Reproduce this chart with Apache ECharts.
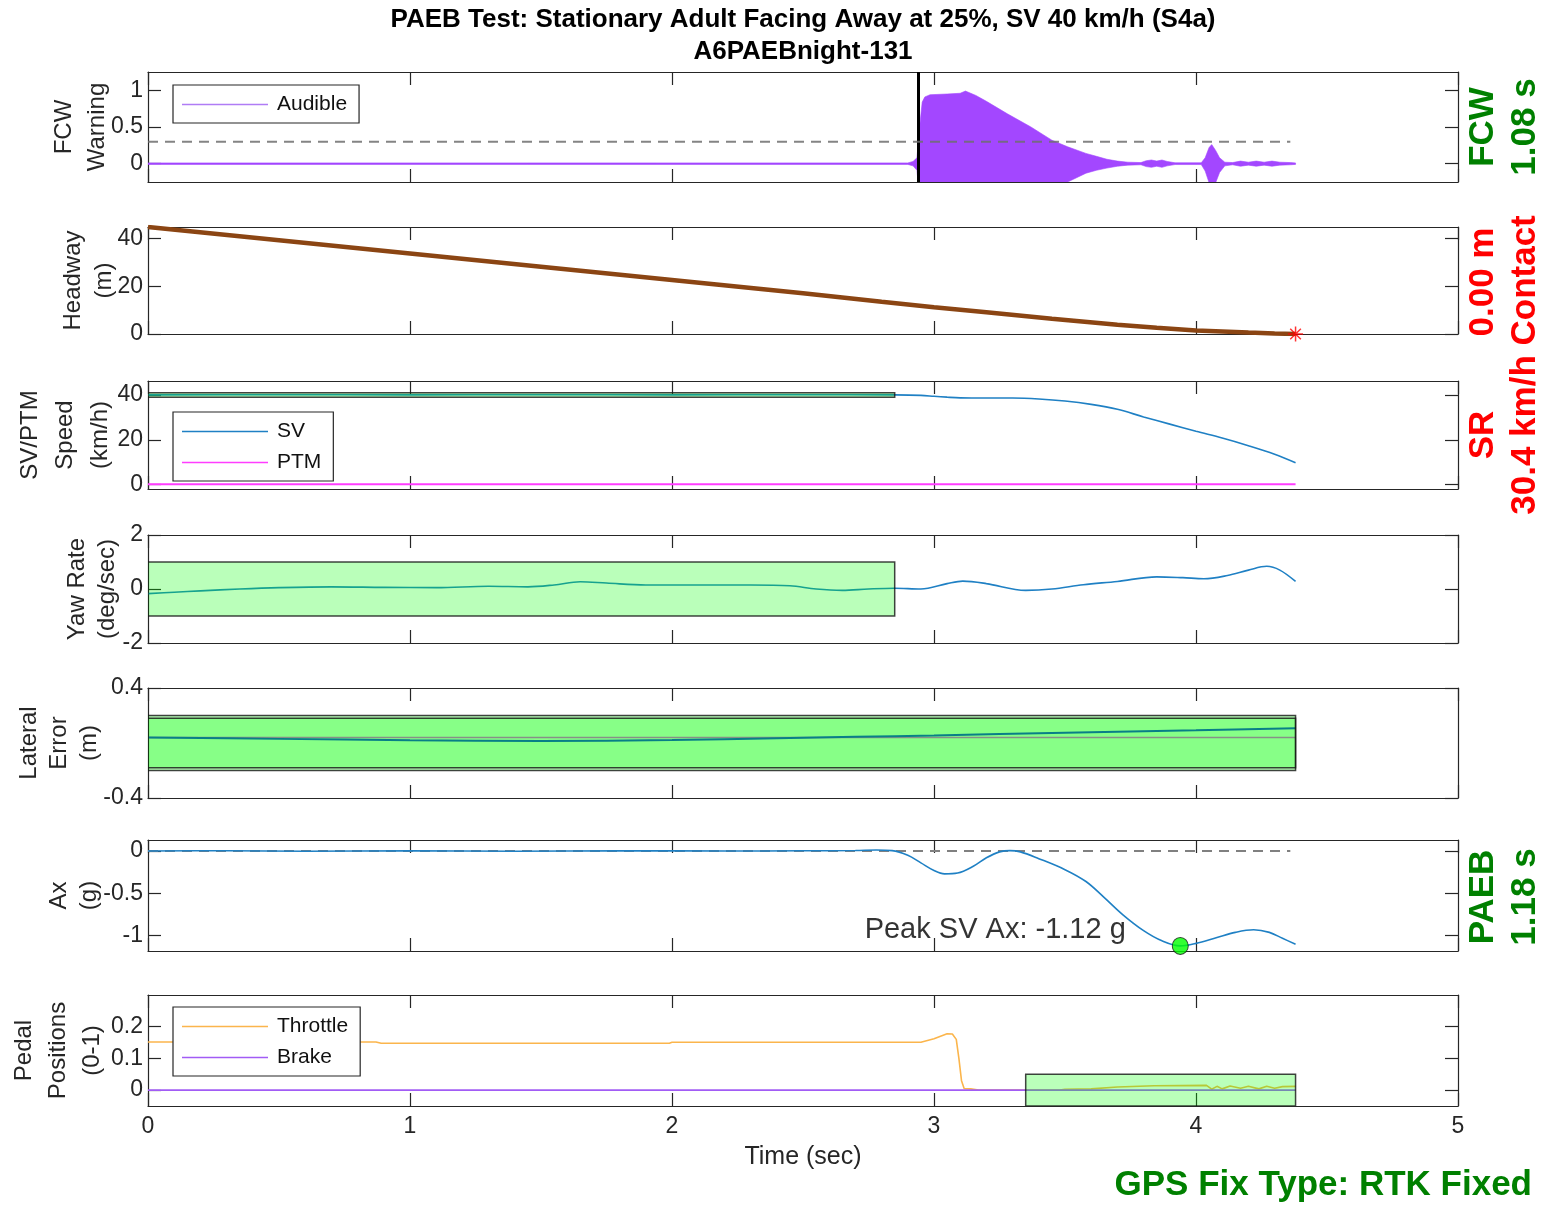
<!DOCTYPE html>
<html>
<head>
<meta charset="utf-8">
<title>PAEB Test S4a</title>
<script src="https://cdn.jsdelivr.net/npm/echarts@6/dist/echarts.min.js"></script>
<style>
  html, body { margin: 0; padding: 0; background: #fff; }
  #chart { width: 1554px; height: 1206px; }
</style>
</head>
<body>
<div id="chart"></div>
<script>
// ---------------- data ----------------
const timeTicks = [0, 1, 2, 3, 4, 5];
const fcwTicks = [0, 0.5, 1];
const headwayTicks = [0, 20, 40];
const speedTicks = [0, 20, 40];
const yawTicks = [-2, 0, 2];
const latTicks = [-0.4, 0.4];
const axTicks = [-1, -0.5, 0];
const pedalTicks = [0, 0.1, 0.2];

// audible warning signal envelope: [time s, upper, lower]
const audibleEnvelope = [
  [0, 0.01, -0.01], [2.90, 0.01, -0.01], [2.92, 0.03, -0.03], [2.935, 0.08, -0.09],
  [2.945, 0.5, -0.5], [2.955, 0.84, -0.88], [2.965, 0.91, -0.95], [2.985, 0.94, -0.96],
  [3.05, 0.95, -0.97], [3.10, 0.96, -0.98], [3.12, 0.99, -0.99], [3.16, 0.93, -0.94],
  [3.20, 0.85, -0.86], [3.28, 0.68, -0.70], [3.37, 0.50, -0.52], [3.45, 0.32, -0.35],
  [3.51, 0.23, -0.25], [3.58, 0.14, -0.13], [3.62, 0.10, -0.09], [3.66, 0.06, -0.06],
  [3.70, 0.035, -0.035], [3.74, 0.02, -0.02], [3.79, 0.015, -0.015], [3.81, 0.04, -0.04],
  [3.83, 0.05, -0.05], [3.85, 0.035, -0.035], [3.87, 0.05, -0.05], [3.89, 0.03, -0.03],
  [3.92, 0.012, -0.012], [4.02, 0.012, -0.012], [4.035, 0.08, -0.10], [4.05, 0.22, -0.26],
  [4.06, 0.26, -0.26], [4.075, 0.18, -0.26], [4.09, 0.08, -0.12], [4.11, 0.02, -0.03],
  [4.14, 0.015, -0.015], [4.17, 0.035, -0.035], [4.20, 0.02, -0.02], [4.23, 0.035, -0.035],
  [4.26, 0.02, -0.02], [4.29, 0.035, -0.035], [4.32, 0.02, -0.02], [4.36, 0.015, -0.015],
  [4.38, 0.01, -0.01]
];
const fcwThreshold = [[0, 0.3], [4.36, 0.3]];
const fcwOnset = 2.945;

const headway = [
  [0, 44.8], [0.5, 39.25], [1, 33.7], [1.5, 28.15], [2, 22.6], [2.5, 17.05],
  [2.8, 13.5], [3.0, 11.2], [3.2, 9.1], [3.45, 6.4], [3.7, 3.9], [3.85, 2.6],
  [4.0, 1.5], [4.2, 0.6], [4.3, 0.25], [4.38, 0]
];
const contactPoint = [[4.38, 0]];

const svSpeed = [
  [0, 40.0], [0.5, 40.1], [1, 40.0], [1.5, 40.1], [2, 40.0], [2.5, 40.1],
  [2.85, 40.0], [2.95, 39.8], [3.0, 39.4], [3.05, 39.0], [3.10, 38.7], [3.2, 38.6],
  [3.3, 38.6], [3.4, 38.2], [3.5, 37.3], [3.6, 35.8], [3.7, 33.6], [3.8, 30.2],
  [3.9, 27.0], [4.0, 23.8], [4.1, 20.8], [4.2, 17.4], [4.3, 13.6], [4.38, 9.8]
];
const ptmSpeed = [[0, 0.2], [4.38, 0.2]];

const yawRate = [
  [0, -0.17], [0.1, -0.12], [0.2, -0.07], [0.35, 0.0], [0.5, 0.05], [0.7, 0.08],
  [0.9, 0.06], [1.1, 0.05], [1.3, 0.1], [1.45, 0.08], [1.55, 0.15], [1.65, 0.27],
  [1.75, 0.22], [1.9, 0.15], [2.1, 0.15], [2.3, 0.15], [2.45, 0.12], [2.55, 0.0],
  [2.65, -0.05], [2.75, 0.0], [2.85, 0.03], [2.95, 0.0], [3.05, 0.2], [3.11, 0.29],
  [3.2, 0.2], [3.35, -0.05], [3.45, 0.0], [3.57, 0.16], [3.7, 0.28], [3.85, 0.45],
  [3.95, 0.42], [4.03, 0.38], [4.12, 0.5], [4.2, 0.7], [4.27, 0.84], [4.32, 0.7],
  [4.38, 0.28]
];

const latErrorSV = [
  [0, 0.04], [0.5, 0.03], [1, 0.02], [1.5, 0.015], [2, 0.022], [2.4, 0.035],
  [2.7, 0.045], [3, 0.055], [3.5, 0.075], [4, 0.092], [4.38, 0.108]
];
const latErrorRef = [[0, 0.04], [4.38, 0.04]];

const axSV = [
  [0, 0], [0.3, 0.004], [0.6, -0.003], [1.0, 0.003], [1.4, -0.002], [1.8, 0.004],
  [2.2, 0.0], [2.5, 0.003], [2.7, 0.006], [2.78, 0.012], [2.84, 0.005], [2.9, -0.05],
  [2.95, -0.14], [3.0, -0.23], [3.04, -0.27], [3.09, -0.26], [3.15, -0.18], [3.2, -0.08],
  [3.25, -0.01], [3.29, 0.005], [3.33, -0.01], [3.4, -0.09], [3.5, -0.22], [3.58, -0.36],
  [3.65, -0.55], [3.72, -0.75], [3.8, -0.94], [3.87, -1.06], [3.94, -1.12], [4.0, -1.09],
  [4.08, -1.02], [4.15, -0.96], [4.22, -0.93], [4.28, -0.96], [4.33, -1.03], [4.38, -1.1]
];
const axPeak = [[3.94, -1.12]];
const axZero = [[0, 0], [4.36, 0]];

const throttle = [
  [0, 0.152], [0.87, 0.152], [0.89, 0.148], [1.99, 0.148], [2.0, 0.151], [2.95, 0.151],
  [3.0, 0.162], [3.05, 0.178], [3.07, 0.177], [3.085, 0.16], [3.095, 0.1], [3.105, 0.03],
  [3.115, 0.005], [3.14, 0.004], [3.17, 0.0], [3.48, 0.0], [3.5, 0.003], [3.6, 0.004],
  [3.7, 0.01], [3.84, 0.014], [4.04, 0.015], [4.06, 0.003], [4.08, 0.012], [4.1, 0.004],
  [4.13, 0.013], [4.17, 0.006], [4.2, 0.012], [4.24, 0.004], [4.27, 0.012], [4.3, 0.006],
  [4.33, 0.011], [4.38, 0.012]
];
const brake = [[0, 0], [4.38, 0]];

// tolerance boxes: [t start, t end, lower, upper]
const speedBox = [[0, 2.85, 39, 41]];
const yawBox = [[0, 2.85, -1, 1]];
const latBox = [[0, 4.38, -0.2, 0.2], [0, 4.38, -0.18, 0.18]];
const pedalBox = [[3.35, 4.38, -0.05, 0.05]];

// ---------------- layout ----------------
const FONT = '"Liberation Sans", Arial, Helvetica, sans-serif';
const AX = '#262626';
const panels = [
  { top: 72,  height: 110, min: -0.25, max: 1.25,  ticks: fcwTicks,     name: 'FCW\nWarning',            gap: 34, lh: 33 },
  { top: 227, height: 107, min: 0,     max: 44.8,  ticks: headwayTicks, name: 'Headway\n(m)',            gap: 28, lh: 31 },
  { top: 381, height: 108, min: -1.9,  max: 46.2,  ticks: speedTicks,   name: 'SV/PTM\nSpeed\n(km/h)',   gap: 30, lh: 35 },
  { top: 535, height: 108, min: -2,    max: 2,     ticks: yawTicks,     name: 'Yaw Rate\n(deg/sec)',     gap: 26, lh: 30 },
  { top: 688, height: 110, min: -0.4,  max: 0.4,   ticks: latTicks,     name: 'Lateral\nError\n(m)',     gap: 44, lh: 30 },
  { top: 840, height: 111, min: -1.18, max: 0.13,  ticks: axTicks,      name: 'Ax\n(g)',                 gap: 44, lh: 30 },
  { top: 995, height: 111, min: -0.05, max: 0.3,   ticks: pedalTicks,   name: 'Pedal\nPositions\n(0-1)', gap: 39, lh: 34 }
];

const grids = [], xAxes = [], yAxes = [];
panels.forEach((p, g) => {
  grids.push({ left: 148, right: 96, top: p.top, height: p.height, containLabel: false, outerBoundsMode: 'none' });
  const isLast = g === panels.length - 1;
  const xBase = {
    gridIndex: g, type: 'value', min: timeTicks[0], max: timeTicks[timeTicks.length - 1], interval: 1,
    axisLine: { show: true, onZero: false, lineStyle: { color: AX, width: 1.2 } },
    axisTick: { show: true, inside: true, length: 13, lineStyle: { color: AX, width: 1.2 } },
    splitLine: { show: false }
  };
  xAxes.push(Object.assign({}, xBase, {
    position: 'bottom',
    axisLabel: { show: isLast, fontSize: 23, color: AX, fontFamily: FONT, margin: 9 },
    name: isLast ? 'Time (sec)' : '', nameLocation: 'middle', nameGap: 39, nameMoveOverlap: false,
    nameTextStyle: { fontSize: 25, color: AX, fontFamily: FONT }
  }));
  xAxes.push(Object.assign({}, xBase, { position: 'top', axisLabel: { show: false } }));
  const yBase = {
    gridIndex: g, type: 'value', min: p.min, max: p.max,
    axisLine: { show: true, onZero: false, lineStyle: { color: AX, width: 1.2 } },
    axisTick: { show: true, inside: true, length: 13, customValues: p.ticks, lineStyle: { color: AX, width: 1.2 } },
    splitLine: { show: false }
  };
  yAxes.push(Object.assign({}, yBase, {
    position: 'left',
    axisLabel: { show: true, customValues: p.ticks, fontSize: 23, color: AX, fontFamily: FONT, margin: 5 },
    name: p.name, nameLocation: 'middle', nameRotate: 90, nameGap: p.gap, nameMoveOverlap: false,
    nameTextStyle: { fontSize: 24, color: AX, fontFamily: FONT, lineHeight: p.lh }
  }));
  yAxes.push(Object.assign({}, yBase, { position: 'right', axisLabel: { show: false } }));
});

const ax = g => ({ xAxisIndex: 2 * g, yAxisIndex: 2 * g });

function lineSeries(name, g, data, color, width, extra) {
  return Object.assign({
    name, type: 'line', data, showSymbol: false, symbol: 'none', smooth: false, silent: true,
    animation: false, z: 2, lineStyle: { color, width }, itemStyle: { color }
  }, ax(g), extra || {});
}

// translucent green tolerance boxes drawn above the traces
function boxSeries(g, data) {
  return Object.assign({
    type: 'custom', data, silent: true, animation: false, z: 4, clip: true,
    renderItem: (params, api) => {
      const a = api.coord([api.value(0), api.value(3)]);
      const b = api.coord([api.value(1), api.value(2)]);
      return {
        type: 'rect',
        shape: { x: a[0], y: a[1], width: b[0] - a[0], height: b[1] - a[1] },
        style: { fill: 'rgba(0,255,0,0.27)', stroke: 'rgba(20,20,20,0.8)', lineWidth: 1.5 }
      };
    }
  }, ax(g));
}

// audible warning drawn as a filled band between its envelopes
const audibleSeries = Object.assign({
  name: 'Audible', type: 'custom', data: audibleEnvelope, silent: true, animation: false,
  z: 2, clip: true, itemStyle: { color: '#a347ff' },
  renderItem: (params, api) => {
    if (params.dataIndex !== 0) return null;
    const upper = audibleEnvelope.map(d => api.coord([d[0], d[1]]));
    const lower = audibleEnvelope.map(d => api.coord([d[0], d[2]])).reverse();
    return {
      type: 'polygon',
      shape: { points: upper.concat(lower), smooth: 0 },
      style: { fill: '#a347ff', stroke: '#a347ff', lineWidth: 0.6 }
    };
  }
}, ax(0));

const asterisk = 'path://M9,0L11,0L11,20L9,20Z M0,9L20,9L20,11L0,11Z M2.2,3.6L3.6,2.2L17.8,16.4L16.4,17.8Z M16.4,2.2L17.8,3.6L3.6,17.8L2.2,16.4Z';

const series = [
  audibleSeries,
  lineSeries('fcwThreshold', 0, fcwThreshold, 'rgba(110,110,110,0.85)', 2, {
    z: 5, lineStyle: { color: 'rgba(110,110,110,0.85)', width: 2, type: [10, 7] },
    markLine: {
      silent: true, symbol: 'none', animation: false, label: { show: false },
      lineStyle: { color: '#000', width: 3, type: 'solid' },
      data: [{ xAxis: fcwOnset }]
    }
  }),
  lineSeries('Headway', 1, headway, '#8b4513', 4.5),
  { type: 'scatter', data: contactPoint, symbol: asterisk, symbolSize: 15, silent: true, animation: false,
    itemStyle: { color: '#ff0000' }, z: 6, ...ax(1) },
  lineSeries('SV', 2, svSpeed, '#1f80c4', 1.6, { smooth: 0.35 }),
  lineSeries('PTM', 2, ptmSpeed, '#ff3dff', 2),
  boxSeries(2, speedBox),
  lineSeries('Yaw', 3, yawRate, '#1f80c4', 1.6, { smooth: 0.35 }),
  boxSeries(3, yawBox),
  lineSeries('LatRef', 4, latErrorRef, '#ff30ff', 1.6),
  lineSeries('LatSV', 4, latErrorSV, '#1010ff', 2, { smooth: 0.35 }),
  boxSeries(4, latBox),
  lineSeries('axZero', 5, axZero, '#808080', 2, { lineStyle: { color: '#808080', width: 2, type: [10, 7] } }),
  lineSeries('Ax', 5, axSV, '#1f80c4', 1.6, { smooth: 0.35 }),
  { type: 'scatter', data: axPeak, symbol: 'circle', symbolSize: [16, 17], silent: true, animation: false, z: 6,
    itemStyle: { color: '#00ff00', borderColor: '#1a1a1a', borderWidth: 1 },
    label: { show: true, position: 'left', distance: 46, offset: [0, -16],
      formatter: p => 'Peak SV Ax: ' + p.value[1].toFixed(2) + ' g',
      fontSize: 29, color: '#000', fontFamily: FONT },
    ...ax(5) },
  lineSeries('Throttle', 6, throttle, '#fbb54c', 1.6),
  lineSeries('Brake', 6, brake, '#a25cf5', 1.6),
  boxSeries(6, pedalBox)
];

function legendBox(top, names, extra) {
  return Object.assign({
    left: 173, top, orient: 'vertical', data: names, selectedMode: false,
    icon: 'rect', itemWidth: 86, itemHeight: 1.6, itemGap: 8,
    padding: [8, 12, 7, 9], borderColor: AX, borderWidth: 1.2, backgroundColor: '#fff',
    textStyle: { fontSize: 21, color: '#111', fontFamily: FONT, padding: [0, 0, 0, 4], lineHeight: 23 },
    z: 10
  }, extra || {});
}

const rotText = (x, y, text, fill) => ({
  type: 'text', x, y, rotation: Math.PI / 2, silent: true,
  style: { text, fill, font: 'bold 35px ' + FONT, textAlign: 'center', textVerticalAlign: 'middle' }
});

const option = {
  backgroundColor: '#fff',
  animation: false,
  grid: grids,
  xAxis: xAxes,
  yAxis: yAxes,
  legend: [
    legendBox(85, [{ name: 'Audible', itemStyle: { color: '#b07cf5' } }]),
    legendBox(412, ['SV', 'PTM']),
    legendBox(1007, ['Throttle', 'Brake'])
  ],
  graphic: [
    { type: 'text', x: 803, y: 20, silent: true,
      style: { text: 'PAEB Test: Stationary Adult Facing Away at 25%, SV 40 km/h (S4a)', fill: '#000',
        font: 'bold 26px ' + FONT, textAlign: 'center', textVerticalAlign: 'middle' } },
    { type: 'text', x: 803, y: 52, silent: true,
      style: { text: 'A6PAEBnight-131', fill: '#000',
        font: 'bold 26px ' + FONT, textAlign: 'center', textVerticalAlign: 'middle' } },
    rotText(1483, 127, 'FCW', '#008000'),
    rotText(1525, 127, '1.08 s', '#008000'),
    rotText(1483, 282, '0.00 m', '#ff0000'),
    rotText(1483, 435, 'SR', '#ff0000'),
    rotText(1525, 365, '30.4 km/h Contact', '#ff0000'),
    rotText(1483, 897, 'PAEB', '#008000'),
    rotText(1525, 897, '1.18 s', '#008000'),
    { type: 'text', x: 1532, y: 1185, silent: true,
      style: { text: 'GPS Fix Type: RTK Fixed', fill: '#008000',
        font: 'bold 35px ' + FONT, textAlign: 'right', textVerticalAlign: 'middle' } }
  ],
  series
};

const chart = echarts.init(document.getElementById('chart'), null, { renderer: 'canvas' });
chart.setOption(option);
</script>
</body>
</html>
